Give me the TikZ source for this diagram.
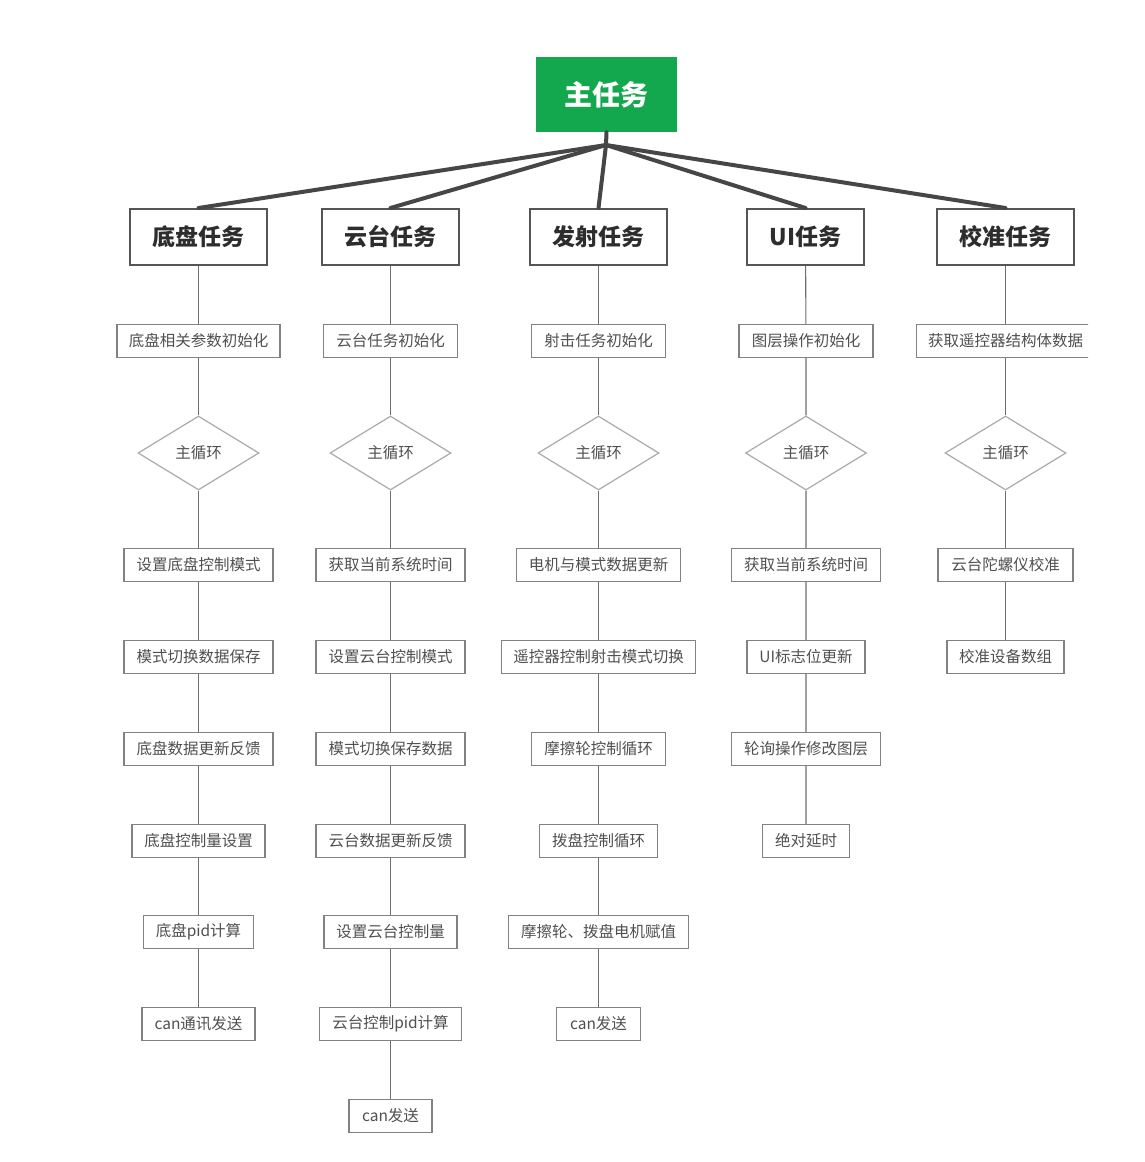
\documentclass[tikz,border=0pt]{standalone}
\usepackage{fontspec}
\setmainfont{Noto Sans CJK SC}
\usetikzlibrary{shapes.geometric}
\definecolor{maingreen}{RGB}{19,168,77}
\definecolor{fanline}{RGB}{70,70,70}
\definecolor{taskborder}{RGB}{85,85,85}
\definecolor{tasktext}{RGB}{45,45,45}
\definecolor{subborder}{RGB}{130,130,130}
\definecolor{subtext}{RGB}{80,80,80}
\definecolor{diaborder}{RGB}{170,170,170}
\definecolor{linkcol}{RGB}{110,110,110}
\begin{document}
\begin{tikzpicture}[x=1pt,y=-1pt,
  mainbox/.style={fill=maingreen, text=white, font=\fontsize{28}{32}\selectfont\bfseries, minimum width=141pt, minimum height=75pt, inner sep=0pt},
  taskbox/.style={draw=taskborder, line width=2pt, fill=white, text=tasktext, font=\fontsize{23}{27}\selectfont\bfseries, minimum width=137pt, minimum height=56pt, inner sep=0pt},
  subbox/.style={draw=subborder, line width=1.2pt, fill=white, text=subtext, font=\fontsize{15.5}{18}\selectfont, minimum height=33pt, inner sep=0pt},
  loopbox/.style={shape=diamond, draw=diaborder, line width=1.2pt, fill=white, text=subtext, font=\fontsize{15.5}{18}\selectfont, minimum width=121pt, minimum height=74pt, inner sep=0pt},
  fan/.style={draw=fanline, line width=4pt, line cap=round},
  link/.style={draw=linkcol, line width=1.1pt}]
\useasboundingbox (0,0) rectangle (1144,1162);

% main task
\node[mainbox] (main) at (606.5,94.5) {主任务};
\coordinate (hub) at (606,145);

% task boxes
\node[taskbox] (t1) at (198.5,237) {底盘任务};
\node[taskbox] (t2) at (390.5,237) {云台任务};
\node[taskbox] (t3) at (598.5,237) {发射任务};
\node[taskbox, minimum width=117pt] (t4) at (805.5,237) {UI任务};
\node[taskbox] (t5) at (1005.5,237) {校准任务};

\draw[fan] (main.south) -- (hub);
\foreach \t in {t1,t2,t3,t4,t5} \draw[fan] (hub) -- (\t.north);

% column 1
\node[subbox, minimum width=163pt] (a1) at (198.5,341) {底盘相关参数初始化};
\node[loopbox] (a2) at (198.5,453) {主循环};
\node[subbox, minimum width=149pt] (a3) at (198.5,565) {设置底盘控制模式};
\node[subbox, minimum width=149pt] (a4) at (198.5,657) {模式切换数据保存};
\node[subbox, minimum width=149pt] (a5) at (198.5,749) {底盘数据更新反馈};
\node[subbox, minimum width=133pt] (a6) at (198.5,841) {底盘控制量设置};
\node[subbox, minimum width=110pt] (a7) at (198.5,932) {底盘pid计算};
\node[subbox, minimum width=113pt] (a8) at (198.5,1024) {can通讯发送};

% column 2
\node[subbox, minimum width=134pt] (b1) at (390.5,341) {云台任务初始化};
\node[loopbox] (b2) at (390.5,453) {主循环};
\node[subbox, minimum width=149pt] (b3) at (390.5,565) {获取当前系统时间};
\node[subbox, minimum width=149pt] (b4) at (390.5,657) {设置云台控制模式};
\node[subbox, minimum width=149pt] (b5) at (390.5,749) {模式切换保存数据};
\node[subbox, minimum width=149pt] (b6) at (390.5,841) {云台数据更新反馈};
\node[subbox, minimum width=133pt] (b7) at (390.5,932) {设置云台控制量};
\node[subbox, minimum width=142pt] (b8) at (390.5,1024) {云台控制pid计算};
\node[subbox, minimum width=83pt] (b9) at (390.5,1116) {can发送};

% column 3
\node[subbox, minimum width=134pt] (c1) at (598.5,341) {射击任务初始化};
\node[loopbox] (c2) at (598.5,453) {主循环};
\node[subbox, minimum width=164pt] (c3) at (598.5,565) {电机与模式数据更新};
\node[subbox, minimum width=194pt] (c4) at (598.5,657) {遥控器控制射击模式切换};
\node[subbox, minimum width=134pt] (c5) at (598.5,749) {摩擦轮控制循环};
\node[subbox, minimum width=118pt] (c6) at (598.5,841) {拨盘控制循环};
\node[subbox, minimum width=180pt] (c7) at (598.5,932) {摩擦轮、拨盘电机赋值};
\node[subbox, minimum width=84pt] (c8) at (598.5,1024) {can发送};

% column 4
\node[subbox, minimum width=134pt] (d1) at (806,341) {图层操作初始化};
\node[loopbox] (d2) at (806,453) {主循环};
\node[subbox, minimum width=149pt] (d3) at (806,565) {获取当前系统时间};
\node[subbox, minimum width=118pt] (d4) at (806,657) {UI标志位更新};
\node[subbox, minimum width=149pt] (d5) at (806,749) {轮询操作修改图层};
\node[subbox, minimum width=87pt] (d6) at (806,841) {绝对延时};

% column 5
\begin{scope}
\clip (0,0) rectangle (1088,1162);
\node[subbox, minimum width=178pt] (e1) at (1005.5,341) {获取遥控器结构体数据};
\end{scope}
\node[loopbox] (e2) at (1005.5,453) {主循环};
\node[subbox, minimum width=135pt] (e3) at (1005.5,565) {云台陀螺仪校准};
\node[subbox, minimum width=117pt] (e4) at (1005.5,657) {校准设备数组};

% connectors
\draw[link] (t1) -- (a1) (a1) -- (a2) (a2) -- (a3) (a3) -- (a4) (a4) -- (a5) (a5) -- (a6) (a6) -- (a7) (a7) -- (a8);
\draw[link] (t2) -- (b1) (b1) -- (b2) (b2) -- (b3) (b3) -- (b4) (b4) -- (b5) (b5) -- (b6) (b6) -- (b7) (b7) -- (b8) (b8) -- (b9);
\draw[link] (t3) -- (c1) (c1) -- (c2) (c2) -- (c3) (c3) -- (c4) (c4) -- (c5) (c5) -- (c6) (c6) -- (c7) (c7) -- (c8);
\draw[link] (t4) -- (d1) (d1) -- (d2) (d2) -- (d3) (d3) -- (d4) (d4) -- (d5) (d5) -- (d6);
\draw[link] (t5) -- (e1) (e1) -- (e2) (e2) -- (e3) (e3) -- (e4);
\end{tikzpicture}
\end{document}
